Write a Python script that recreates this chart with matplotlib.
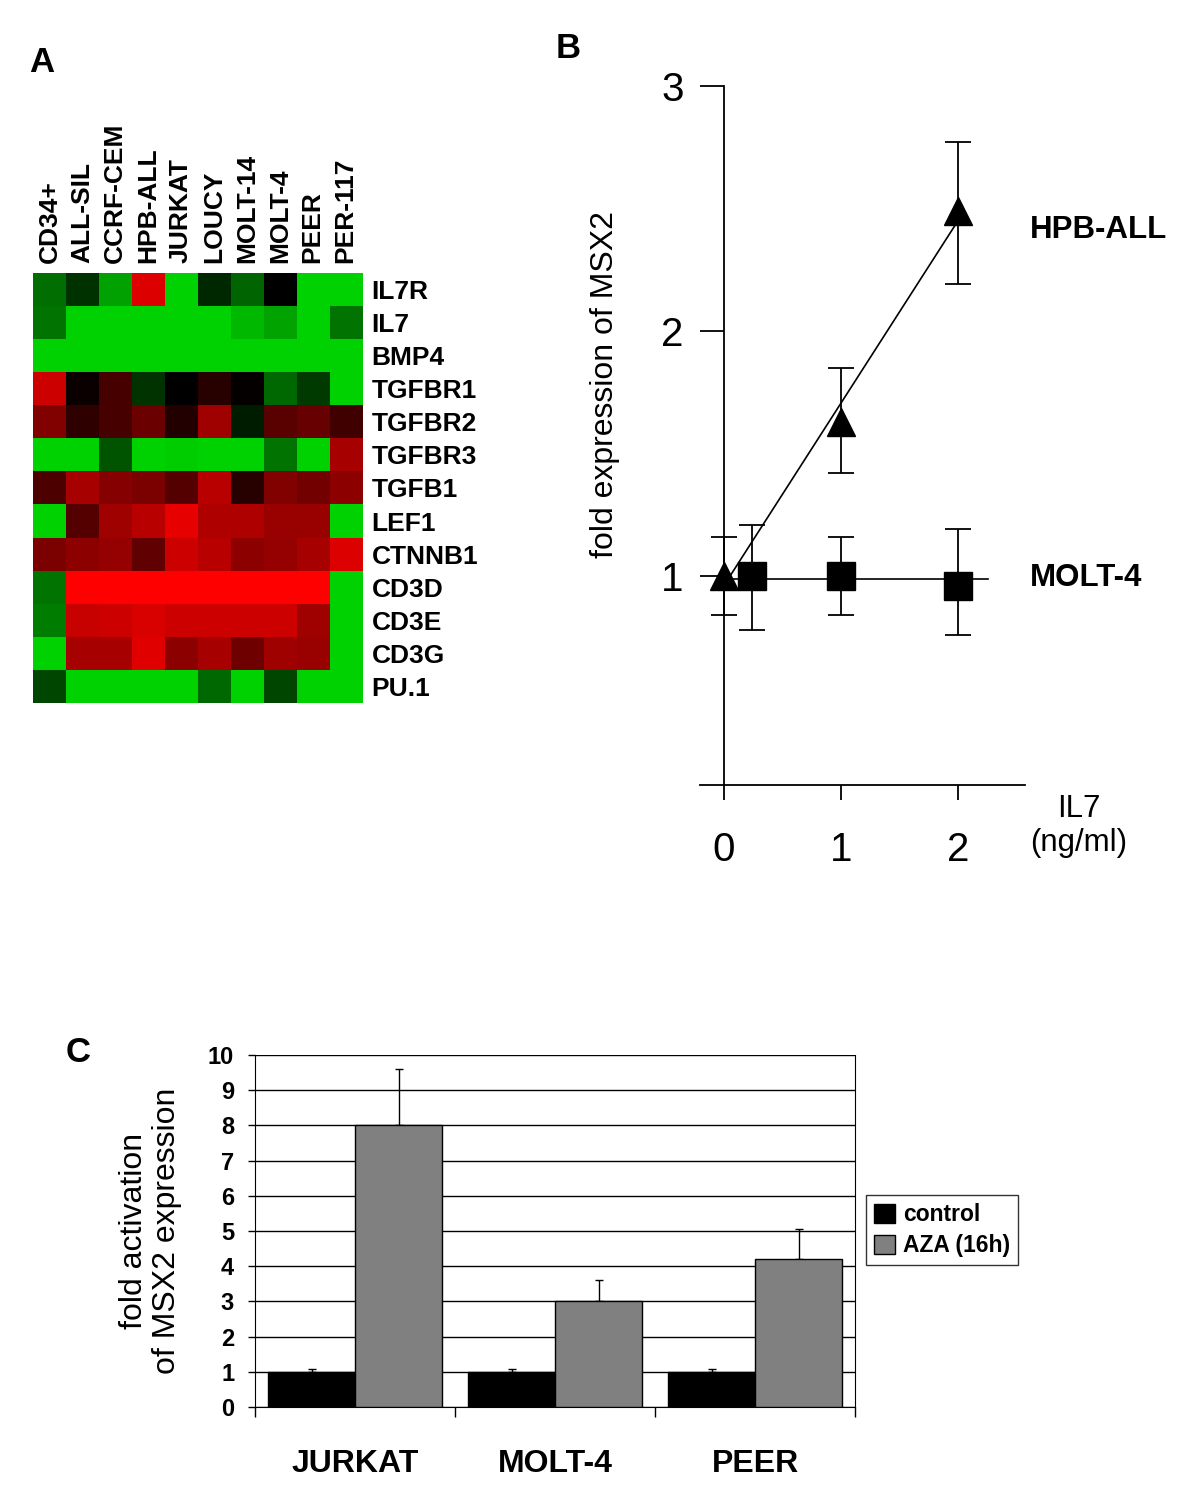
import numpy as np
import matplotlib
matplotlib.use("Agg")
import matplotlib.pyplot as plt
from matplotlib.colors import LinearSegmentedColormap

plt.rcParams['font.family'] = ['Liberation Sans', 'DejaVu Sans']

# panel A: expression heatmap (green = low, black = mid, red = high)
cell_lines = ['CD34+', 'ALL-SIL', 'CCRF-CEM', 'HPB-ALL', 'JURKAT', 'LOUCY',
              'MOLT-14', 'MOLT-4', 'PEER', 'PER-117']
genes = ['IL7R', 'IL7', 'BMP4', 'TGFBR1', 'TGFBR2', 'TGFBR3', 'TGFB1',
         'LEF1', 'CTNNB1', 'CD3D', 'CD3E', 'CD3G', 'PU.1']
expr = [
    [-0.53, -0.24, -0.77, 0.86, -1.0, -0.19, -0.48, 0.0, -1.0, -1.0],
    [-0.55, -1.0, -1.0, -1.0, -1.0, -1.0, -0.88, -0.78, -1.0, -0.55],
    [-1.0, -1.0, -1.0, -1.0, -1.0, -1.0, -1.0, -1.0, -1.0, -1.0],
    [0.80, 0.04, 0.28, -0.25, 0.0, 0.15, 0.02, -0.50, -0.28, -1.0],
    [0.50, 0.18, 0.28, 0.42, 0.14, 0.62, -0.14, 0.35, 0.40, 0.25],
    [-1.0, -1.0, -0.40, -1.0, -0.98, -1.0, -1.0, -0.55, -1.0, 0.65],
    [0.30, 0.65, 0.52, 0.48, 0.33, 0.72, 0.15, 0.50, 0.45, 0.55],
    [-1.0, 0.33, 0.62, 0.72, 0.90, 0.68, 0.68, 0.60, 0.60, -1.0],
    [0.48, 0.55, 0.58, 0.38, 0.80, 0.72, 0.55, 0.58, 0.65, 0.86],
    [-0.55, 1.0, 1.0, 1.0, 1.0, 1.0, 1.0, 1.0, 1.0, -1.0],
    [-0.60, 0.78, 0.80, 0.85, 0.80, 0.80, 0.80, 0.80, 0.62, -1.0],
    [-1.0, 0.65, 0.65, 0.88, 0.55, 0.65, 0.43, 0.62, 0.60, -1.0],
    [-0.33, -1.0, -1.0, -1.0, -1.0, -0.50, -1.0, -0.33, -1.0, -1.0],
]

# panel B: MSX2 fold expression vs IL7 dose
hpb_x = [0, 1, 2]
hpb_y = [1.0, 1.63, 2.49]
hpb_lo = [0.84, 1.42, 2.19]
hpb_hi = [1.16, 1.85, 2.77]
molt_x = [0.24, 1, 2]
molt_y = [1.0, 1.0, 0.96]
molt_lo = [0.78, 0.84, 0.76]
molt_hi = [1.21, 1.16, 1.19]

# panel C: AZA activation
groups = ['JURKAT', 'MOLT-4', 'PEER']
control = [1.0, 1.0, 1.0]
control_err = [0.08, 0.08, 0.08]
aza = [8.0, 3.0, 4.2]
aza_err = [1.6, 0.6, 0.85]

W, H = 1200, 1510
fig = plt.figure(figsize=(12, 15.1), dpi=100)


def fx(px):
    return px / W


def fy(py):
    return 1 - py / H


# ---------- A ----------
axA = fig.add_axes([fx(33), fy(703), fx(362 - 33), (703 - 273) / H])
cmap = LinearSegmentedColormap.from_list('rg', [(0, 0.82, 0), (0, 0, 0), (1, 0, 0)])
axA.imshow(np.array(expr), cmap=cmap, vmin=-1, vmax=1, aspect='auto',
           interpolation='nearest')
axA.set_xticks(range(len(cell_lines)))
axA.set_xticklabels(cell_lines, rotation=90, fontsize=19, fontweight='bold')
axA.xaxis.tick_top()
axA.set_yticks(range(len(genes)))
axA.set_yticklabels(genes, fontsize=19, fontweight='bold')
axA.yaxis.tick_right()
axA.tick_params(length=0, pad=7)
for s in axA.spines.values():
    s.set_visible(False)
fig.text(fx(42), fy(62), 'A', fontsize=25, fontweight='bold', ha='center', va='center')

# ---------- B ----------
ybot = 0.147
axB = fig.add_axes([fx(700), fy(785), fx(325), (785 - 86) / H])
axB.set_xlim(-0.205, 2.57)
axB.set_ylim(ybot, 3.0)
axB.spines['top'].set_visible(False)
axB.spines['right'].set_visible(False)
axB.spines['left'].set_position(('data', 0))
axB.spines['left'].set_linewidth(1.3)
axB.spines['bottom'].set_linewidth(1.3)

# trend lines
m, b = np.polyfit(hpb_x, hpb_y, 1)
xl = np.array([0, 2])
axB.plot(xl, m * xl + b, color='black', lw=1.2, zorder=2)
xl2 = np.array([0, 2.25])
axB.plot(xl2, np.full(2, np.mean(molt_y)), color='black', lw=1.2, zorder=2)

hy = np.array(hpb_y)
axB.errorbar(hpb_x, hpb_y, yerr=[hy - np.array(hpb_lo), np.array(hpb_hi) - hy],
             fmt='^', color='black', ms=20, capsize=9.7, elinewidth=1.3,
             capthick=1.3, zorder=4)
my = np.array(molt_y)
axB.errorbar(molt_x, molt_y, yerr=[my - np.array(molt_lo), np.array(molt_hi) - my],
             fmt='s', color='black', ms=20, capsize=9.7, elinewidth=1.3,
             capthick=1.3, zorder=3)

axB.set_yticks([1, 2, 3])
axB.set_xticks([0, 1, 2])
axB.tick_params(axis='y', direction='out', length=17, width=1.3, pad=12, labelsize=29)
axB.tick_params(axis='x', direction='out', length=11, width=1.3, pad=22, labelsize=29)
axB.set_ylabel('fold expression of MSX2', fontsize=23)
axB.yaxis.set_label_coords((620 - 700) / 325, (785 - 385) / (785 - 86))
fig.text(fx(1030), fy(230), 'HPB-ALL', fontsize=22.5, fontweight='bold', va='center')
fig.text(fx(1030), fy(578), 'MOLT-4', fontsize=22.5, fontweight='bold', va='center')
fig.text(fx(1079), fy(826), 'IL7\n(ng/ml)', fontsize=22.5, ha='center', va='center',
         linespacing=1.2)
fig.text(fx(568), fy(48), 'B', fontsize=25, fontweight='bold', ha='center', va='center')

# ---------- C ----------
axC = fig.add_axes([fx(255), fy(1407), fx(600), (1407 - 1055) / H])
pos = np.arange(len(groups))
bw = 0.435
axC.bar(pos - bw / 2, control, bw, color='black', edgecolor='black', lw=1,
        label='control', zorder=3)
axC.bar(pos + bw / 2, aza, bw, color='#808080', edgecolor='black', lw=1,
        label='AZA (16h)', zorder=3)
axC.errorbar(pos - bw / 2, control, yerr=[[0] * 3, control_err], fmt='none',
             ecolor='black', elinewidth=1, capsize=3, capthick=1, zorder=2)
axC.errorbar(pos + bw / 2, aza, yerr=[[0] * 3, aza_err], fmt='none',
             ecolor='black', elinewidth=1, capsize=3, capthick=1, zorder=2)
axC.set_xlim(-0.5, 2.5)
axC.set_ylim(0, 10)
axC.set_yticks(range(0, 11))
axC.grid(axis='y', color='black', lw=1, zorder=0)
axC.set_axisbelow(True)
axC.spines['top'].set_visible(False)
axC.set_xticks(pos)
axC.set_xticklabels(groups, fontsize=23, fontweight='bold')
axC.set_xticks([-0.5, 0.5, 1.5, 2.5], minor=True)
axC.tick_params(axis='x', which='major', length=0, pad=30)
axC.tick_params(axis='x', which='minor', length=7, width=1, direction='out')
axC.tick_params(axis='y', length=5, width=1, pad=10, labelsize=17)
for t in axC.get_yticklabels():
    t.set_fontweight('bold')
axC.set_ylabel('fold activation\nof MSX2 expression', fontsize=23, linespacing=1.15)
axC.yaxis.set_label_coords((182 - 255) / 600, 0.5)
leg = fig.legend(loc='upper left', bbox_to_anchor=(fx(866), fy(1195)),
                 prop={'size': 16.5, 'weight': 'bold'}, frameon=True, fancybox=False,
                 edgecolor='black', handlelength=0.9, handleheight=0.9,
                 handletextpad=0.35, borderpad=0.35, labelspacing=0.35, borderaxespad=0)
leg.get_frame().set_linewidth(1)
fig.text(fx(78), fy(1053), 'C', fontsize=25, fontweight='bold', ha='center', va='center')

fig.savefig('out.png', dpi=100, facecolor='white')
